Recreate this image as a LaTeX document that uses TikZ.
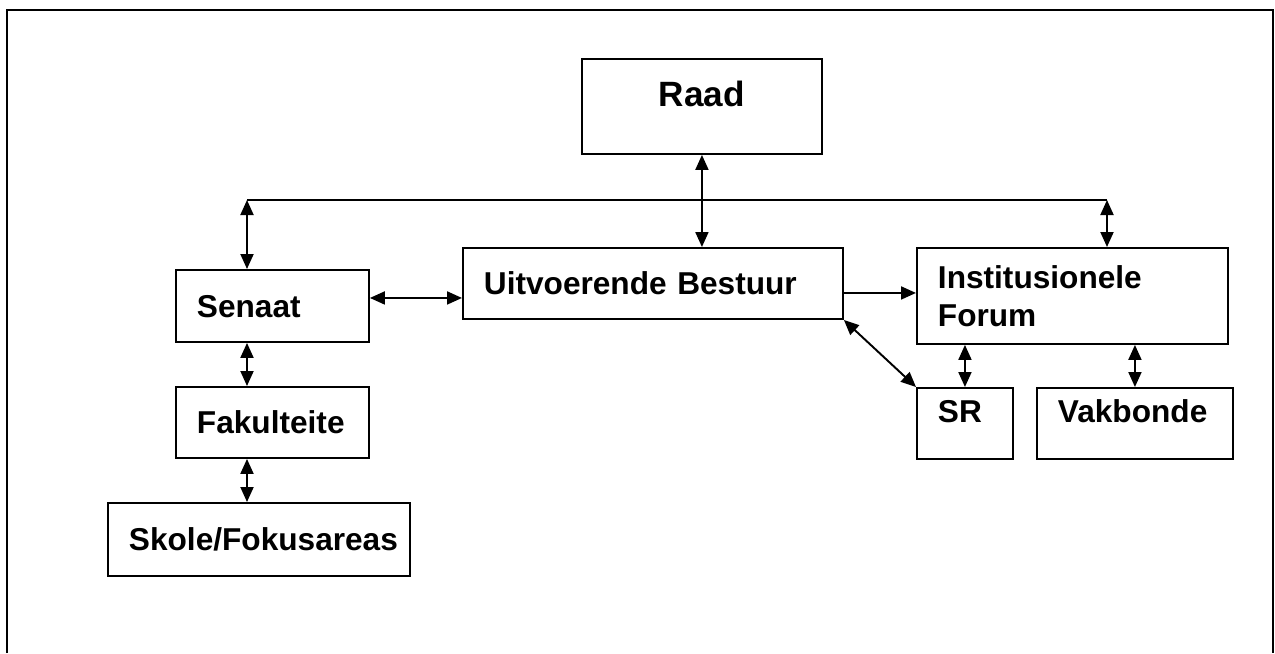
\documentclass[tikz,border=0pt]{standalone}
\usepackage{fontspec}
\setmainfont{Liberation Sans}
\usetikzlibrary{arrows.meta}

\begin{document}
\begin{tikzpicture}
  [x=0.02cm, y=-0.02cm, line width=1.1pt,
   every node/.style={draw, rectangle, anchor=north west, inner ysep=0pt, inner xsep=0.42cm,
     align=left, font=\fontsize{18pt}{21.6pt}\selectfont\bfseries},
   >={Triangle[length=0.3cm,width=0.26cm]}]

  \tikzstyle{box} = [minimum height=1.42cm, text height=0.46cm, text depth=0cm]
  \tikzstyle{raised} = [text depth=0.5cm]

  \useasboundingbox (0,0) rectangle (1275,653);
  \draw[line width=1.4pt] (7,653) -- (7,10) -- (1273,10) -- (1273,653);

  \node[box, minimum height=1.9cm, text height=0.5cm, text depth=0.5cm, text width=3.96cm, align=center,
        font=\fontsize{20pt}{24pt}\selectfont\bfseries] (raad) at (581,58) {Raad};
  \node[box, text width=6.76cm]                      (bestuur)    at (462,247)  {Uitvoerende Bestuur};
  \node[box, text width=3.02cm, minimum height=1.44cm] (senaat)   at (175,269)  {Senaat};
  \node[box, text width=3.02cm]                      (fakulteite) at (175,386)  {Fakulteite};
  \node[box, text width=5.2cm, minimum height=1.46cm] (skole)     at (107,502)  {\mbox{Skole/Fokusareas}};
  \node[text width=5.38cm, minimum height=1.92cm]    (forum)      at (916,247)  {Institusionele\\Forum};
  \node[box, raised, text width=1.08cm]              (sr)         at (916,387)  {SR};
  \node[box, raised, text width=3.08cm]              (vakbonde)   at (1036,387) {Vakbonde};

  \coordinate (busL) at (247,200);
  \coordinate (busR) at (1107,200);
  \coordinate (senE) at ([yshift=0.16cm]senaat.east);
  \coordinate (bstE) at ([yshift=-0.19cm]bestuur.east);

  \draw (busL) -- (busR);
  \path[<->]
        (raad.south) edge (raad.south |- bestuur.north)
        (busL) edge (busL |- senaat.north)
        (busR) edge (busR |- forum.north)
        (senE) edge (senE -| bestuur.west)
        (bestuur.south east) edge (sr.north west)
        (busL |- senaat.south) edge (busL |- fakulteite.north)
        (busL |- fakulteite.south) edge (busL |- skole.north)
        (sr.north |- forum.south) edge (sr.north)
        (vakbonde.north |- forum.south) edge (vakbonde.north);
  \draw[->] (bstE) -- (bstE -| forum.west);
\end{tikzpicture}
\end{document}
